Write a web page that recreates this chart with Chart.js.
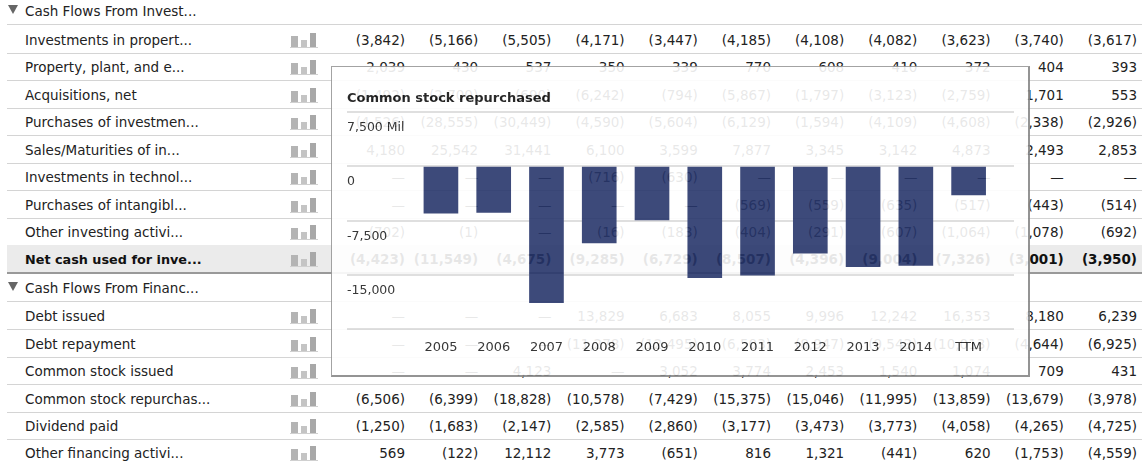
<!DOCTYPE html>
<html>
<head>
<meta charset="utf-8">
<title>Cash flow</title>
<script src="https://cdn.jsdelivr.net/npm/chart.js@4"></script>
<style>
  html, body { margin: 0; padding: 0; background: #fff; overflow: hidden; }
  body { width: 1142px; height: 463px; position: relative; font: 13.5px "DejaVu Sans", sans-serif; color: #222; }
  .row { position: absolute; left: 7px; right: 0; height: 27px; line-height: 29px; white-space: nowrap; }
  .row.line { border-bottom: 1px solid #d4d4d4; }
  .row.total { background: #ebebeb; font-weight: bold; color: #111; }
  .row.total .name { font-size: 12.8px; }
  .row.total.line { border-bottom: 2px solid #999; }
  .name { position: absolute; left: 18px; top: 0; }
  .tri { position: absolute; left: 1px; top: 8px; border-left: 5px solid transparent; border-right: 5px solid transparent; border-top: 9px solid #666; }
  .icon { position: absolute; left: 283px; top: 6px; }
  .val { position: absolute; top: 0; text-align: right; width: 72px; }
  #popup { position: absolute; left: 331px; top: 66px; width: 696px; height: 308px; background: #fff; opacity: .9;
    border-left: 1px solid #999; border-top: 1px solid #999; border-right: 2px solid #888; border-bottom: 2px solid #888; }
  #chart { position: absolute; left: -1px; top: -1px; }
</style>
</head>
<body>
<div id="table"></div>
<div id="popup"><canvas id="chart" width="699" height="310"></canvas></div>
<script>
const years = ['2005', '2006', '2007', '2008', '2009', '2010', '2011', '2012', '2013', '2014', 'TTM'];
const repurchased = [-6506, -6399, -18828, -10578, -7429, -15375, -15046, -11995, -13859, -13679, -3978];
const yTicks = [7500, 0, -7500, -15000, -22500];

const rowNames = [
  'Cash Flows From Invest...', 'Investments in propert...', 'Property, plant, and e...', 'Acquisitions, net',
  'Purchases of investmen...', 'Sales/Maturities of in...', 'Investments in technol...', 'Purchases of intangibl...',
  'Other investing activi...', 'Net cash used for inve...', 'Cash Flows From Financ...', 'Debt issued', 'Debt repayment',
  'Common stock issued', 'Common stock repurchas...', 'Dividend paid', 'Other financing activi...',
];
const rowValues = [
  null,
  ['(3,842)', '(5,166)', '(5,505)', '(4,171)', '(3,447)', '(4,185)', '(4,108)', '(4,082)', '(3,623)', '(3,740)', '(3,617)'],
  ['2,039', '430', '537', '350', '339', '770', '608', '410', '372', '404', '393'],
  ['(1,492)', '(2,700)', '(690)', '(6,242)', '(794)', '(5,867)', '(1,797)', '(3,123)', '(2,759)', '1,701', '553'],
  ['(4,526)', '(28,555)', '(30,449)', '(4,590)', '(5,604)', '(6,129)', '(1,594)', '(4,109)', '(4,608)', '(2,338)', '(2,926)'],
  ['4,180', '25,542', '31,441', '6,100', '3,599', '7,877', '3,345', '3,142', '4,873', '2,493', '2,853'],
  ['—', '—', '—', '(716)', '(630)', '—', '—', '—', '—', '—', '—'],
  ['—', '—', '—', '—', '—', '(569)', '(559)', '(635)', '(517)', '(443)', '(514)'],
  ['(702)', '(1)', '—', '(16)', '(183)', '(404)', '(291)', '(607)', '(1,064)', '(1,078)', '(692)'],
  ['(4,423)', '(11,549)', '(4,675)', '(9,285)', '(6,729)', '(8,507)', '(4,396)', '(9,004)', '(7,326)', '(3,001)', '(3,950)'],
  null,
  ['—', '—', '—', '13,829', '6,683', '8,055', '9,996', '12,242', '16,353', '8,180', '6,239'],
  ['—', '—', '—', '(11,278)', '(12,495)', '(6,503)', '(8,947)', '(9,543)', '(10,013)', '(4,644)', '(6,925)'],
  ['—', '—', '4,123', '—', '3,052', '3,774', '2,453', '1,540', '1,074', '709', '431'],
  ['(6,506)', '(6,399)', '(18,828)', '(10,578)', '(7,429)', '(15,375)', '(15,046)', '(11,995)', '(13,859)', '(13,679)', '(3,978)'],
  ['(1,250)', '(1,683)', '(2,147)', '(2,585)', '(2,860)', '(3,177)', '(3,473)', '(3,773)', '(4,058)', '(4,265)', '(4,725)'],
  ['569', '(122)', '12,112', '3,773', '(651)', '816', '1,321', '(441)', '620', '(1,753)', '(4,559)'],
];

// ─── TABLE ────────────────────────────────────────────────────────────
const rowBottoms = [24, 53, 80, 108, 135, 163, 190, 218, 245, 272, 301, 329, 357, 384, 412, 439, 466];
const TOTAL_ROW = 9;
const iconSvg = `<svg class="icon" width="28" height="16"><g>
  <rect x="1" y="4" width="7" height="11" fill="#b4b4b4"/><rect x="11" y="8" width="6" height="7" fill="#c4c4c4"/><rect x="20" y="1" width="6" height="14" fill="#a8a8a8"/></g>
  <rect x="0" y="15" width="28" height="1" fill="#d0d0d0"/></svg>`;

document.getElementById('table').innerHTML = rowNames.map((name, i) => {
  const top = rowBottoms[i] - 27;
  const cls = ['row', i < rowNames.length - 1 ? 'line' : '', i === TOTAL_ROW ? 'total' : ''].join(' ');
  const vals = rowValues[i];
  const cells = vals ? vals.map((v, c) =>
    `<span class="val" style="left:${405 + c * 73.2 - 79}px">${v}</span>`).join('') : '';
  return `<div class="${cls}" style="top:${top}px">
    ${vals ? '' : '<span class="tri"></span>'}
    <span class="name">${name}</span>${vals ? iconSvg : ''}${cells}
  </div>`;
}).join('');

// ─── CHART ────────────────────────────────────────────────────────────
new Chart(document.getElementById('chart'), {
  type: 'bar',
  data: {
    datasets: [{
      data: repurchased.map((v, i) => ({ x: i, y: v })),
      backgroundColor: '#28366b',
      barThickness: 34,
    }],
  },
  options: {
    responsive: false,
    animation: false,
    devicePixelRatio: 1,
    layout: { padding: { left: 16, right: 16, top: 16, bottom: 11 } },
    plugins: {
      legend: { display: false },
      tooltip: { enabled: false },
      title: {
        display: true,
        text: 'Common stock repurchased',
        align: 'start',
        color: '#111',
        font: { family: '"DejaVu Sans", sans-serif', size: 13, weight: 'bold' },
        padding: { top: 9, bottom: 5 },
      },
    },
    scales: {
      x: {
        type: 'linear',
        offset: false,
        min: -1.78,
        max: 10.86,
        afterBuildTicks: axis => { axis.ticks = years.map((_, i) => ({ value: i })); },
        grid: { display: false, drawTicks: false },
        border: { display: false },
        ticks: {
          autoSkip: false,
          maxRotation: 0,
          padding: 10,
          color: '#222',
          font: { family: '"DejaVu Sans", sans-serif', size: 13 },
          callback: v => years[v],
        },
      },
      y: {
        min: -22500,
        max: 7500,
        afterBuildTicks: axis => { axis.ticks = yTicks.map(v => ({ value: v })); },
        grid: { color: '#dcdcdc', lineWidth: 2, drawTicks: false },
        border: { display: false },
        ticks: {
          mirror: true,
          padding: 0,
          labelOffset: 16,
          color: '#222',
          font: { family: '"DejaVu Sans", sans-serif', size: 12.5 },
          callback: v => v === -22500 ? '' : v === 7500 ? '7,500 Mil' : v.toLocaleString('en-US'),
        },
      },
    },
  },
});
</script>
</body>
</html>
